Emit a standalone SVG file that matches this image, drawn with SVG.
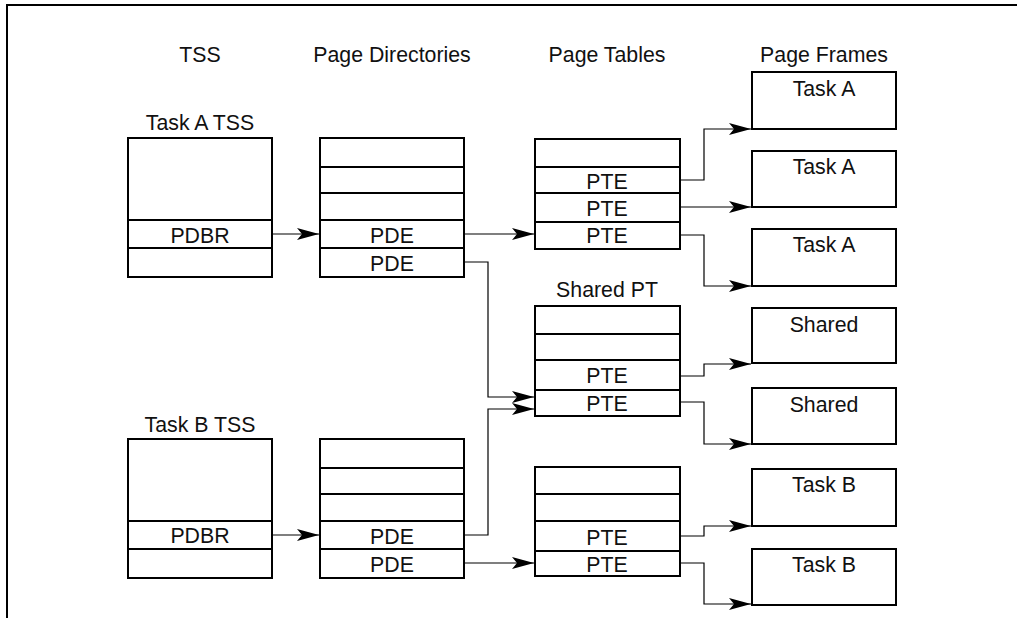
<svg xmlns="http://www.w3.org/2000/svg" width="1017" height="618" viewBox="0 0 1017 618">
<style>
.box{fill:#fff;stroke:#000;stroke-width:2}
.div{stroke:#000;stroke-width:2}
.con{fill:none;stroke:#000;stroke-width:1.2;marker-end:url(#ah)}
.border{fill:none;stroke:#000;stroke-width:2}
text{font-family:"Liberation Sans",Arial,sans-serif;font-size:21.3px;fill:#111;text-anchor:middle}
</style>
<defs>
<marker id="ah" markerUnits="userSpaceOnUse" markerWidth="24" markerHeight="14" refX="22" refY="7" orient="auto" viewBox="0 0 24 14">
<path d="M0,1 L22,7 L0,13 L5,7 Z" fill="#000"/>
</marker>
</defs>
<rect width="1017" height="618" fill="#fff"/>
<path class="border" d="M7,618 L7,5 L1017,5"/>

<g id="headers">
<text x="200" y="62">TSS</text>
<text x="392" y="62">Page Directories</text>
<text x="607" y="62">Page Tables</text>
<text x="824" y="62">Page Frames</text>
</g>

<g id="tss-a">
<text x="200" y="130">Task A TSS</text>
<rect class="box" x="128" y="138" width="144" height="139"/>
<line class="div" x1="128" y1="220" x2="272" y2="220"/>
<line class="div" x1="128" y1="248" x2="272" y2="248"/>
<text x="200" y="243">PDBR</text>
</g>

<g id="pd-a">
<rect class="box" x="320" y="138" width="144" height="139"/>
<line class="div" x1="320" y1="167" x2="464" y2="167"/>
<line class="div" x1="320" y1="193" x2="464" y2="193"/>
<line class="div" x1="320" y1="220" x2="464" y2="220"/>
<line class="div" x1="320" y1="248" x2="464" y2="248"/>
<text x="392" y="243">PDE</text>
<text x="392" y="271">PDE</text>
</g>

<g id="pt-a">
<rect class="box" x="535" y="139" width="145" height="110"/>
<line class="div" x1="535" y1="167" x2="680" y2="167"/>
<line class="div" x1="535" y1="193" x2="680" y2="193"/>
<line class="div" x1="535" y1="222" x2="680" y2="222"/>
<text x="607" y="189">PTE</text>
<text x="607" y="216">PTE</text>
<text x="607" y="243">PTE</text>
</g>

<g id="pt-shared">
<text x="607" y="297">Shared PT</text>
<rect class="box" x="535" y="306" width="145" height="110"/>
<line class="div" x1="535" y1="334" x2="680" y2="334"/>
<line class="div" x1="535" y1="360" x2="680" y2="360"/>
<line class="div" x1="535" y1="390" x2="680" y2="390"/>
<text x="607" y="383">PTE</text>
<text x="607" y="411">PTE</text>
</g>

<g id="tss-b">
<text x="200" y="432">Task B TSS</text>
<rect class="box" x="128" y="439" width="144" height="139"/>
<line class="div" x1="128" y1="521" x2="272" y2="521"/>
<line class="div" x1="128" y1="549" x2="272" y2="549"/>
<text x="200" y="543">PDBR</text>
</g>

<g id="pd-b">
<rect class="box" x="320" y="439" width="144" height="139"/>
<line class="div" x1="320" y1="468" x2="464" y2="468"/>
<line class="div" x1="320" y1="494" x2="464" y2="494"/>
<line class="div" x1="320" y1="521" x2="464" y2="521"/>
<line class="div" x1="320" y1="549" x2="464" y2="549"/>
<text x="392" y="544">PDE</text>
<text x="392" y="572">PDE</text>
</g>

<g id="pt-b">
<rect class="box" x="535" y="467" width="145" height="109"/>
<line class="div" x1="535" y1="494" x2="680" y2="494"/>
<line class="div" x1="535" y1="521" x2="680" y2="521"/>
<line class="div" x1="535" y1="551" x2="680" y2="551"/>
<text x="607" y="545">PTE</text>
<text x="607" y="572">PTE</text>
</g>

<g id="frame-a1"><rect class="box" x="752" y="72" width="144" height="57"/><text x="824" y="96">Task A</text></g>
<g id="frame-a2"><rect class="box" x="752" y="151" width="144" height="56"/><text x="824" y="174">Task A</text></g>
<g id="frame-a3"><rect class="box" x="752" y="229" width="144" height="57"/><text x="824" y="252">Task A</text></g>
<g id="frame-s1"><rect class="box" x="752" y="308" width="144" height="55"/><text x="824" y="332">Shared</text></g>
<g id="frame-s2"><rect class="box" x="752" y="388" width="144" height="56"/><text x="824" y="412">Shared</text></g>
<g id="frame-b1"><rect class="box" x="752" y="469" width="144" height="57"/><text x="824" y="492">Task B</text></g>
<g id="frame-b2"><rect class="box" x="752" y="549" width="144" height="56"/><text x="824" y="572">Task B</text></g>

<g id="connectors">
<polyline class="con" points="272,234 319,234"/>
<polyline class="con" points="464,234 534,234"/>
<polyline class="con" points="464,262 488,262 488,397 534,397"/>
<polyline class="con" points="272,535 319,535"/>
<polyline class="con" points="464,535 488,535 488,409 534,409"/>
<polyline class="con" points="464,563 534,563"/>
<polyline class="con" points="680,180 704,180 704,129 751,129"/>
<polyline class="con" points="680,207 751,207"/>
<polyline class="con" points="680,235 704,235 704,286 751,286"/>
<polyline class="con" points="680,376 704,376 704,364 751,364"/>
<polyline class="con" points="680,402 704,402 704,444 751,444"/>
<polyline class="con" points="680,536 704,536 704,526 751,526"/>
<polyline class="con" points="680,563 704,563 704,604 751,604"/>
</g>
</svg>
